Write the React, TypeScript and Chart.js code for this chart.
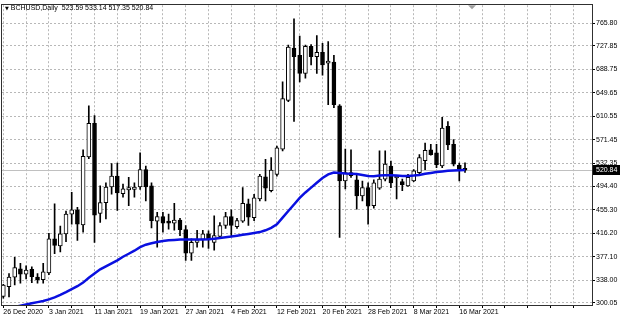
import React, { useEffect, useRef } from 'react';
import { Chart, registerables } from 'chart.js';

Chart.register(...registerables);

const symbolLabel = 'BCHUSD,Daily';

const xTickLabels = [
  '26 Dec 2020', '3 Jan 2021', '11 Jan 2021', '19 Jan 2021', '27 Jan 2021', '4 Feb 2021',
  '12 Feb 2021', '20 Feb 2021', '28 Feb 2021', '8 Mar 2021', '16 Mar 2021',
];

const yTickValues = [300.05, 338.0, 377.1, 416.2, 455.3, 494.4, 532.35, 571.45, 610.55, 649.65, 688.75, 727.85, 765.8];

const opens = [
  311, 327, 343, 357, 348, 356, 343, 339, 350, 407, 395, 415, 448, 455, 430, 543, 599, 449, 467, 493,
  511, 482, 488, 489, 493, 522, 495, 436, 444, 435, 433, 438, 422, 383, 401, 406, 415, 401, 411, 429,
  444, 427, 436, 465, 442, 473, 510, 487, 514, 556, 637, 724, 712, 682, 727, 710, 717, 699, 701, 628,
  503, 517, 505, 478, 492, 462, 491, 506, 528, 508, 502, 495, 503, 517, 537, 555, 550, 528, 594, 564,
  529, 523.59,
];

const highs = [
  331, 349, 376, 366, 362, 360, 349, 366, 416, 465, 428, 453, 484, 459, 555, 628, 612, 495, 500, 532,
  533, 498, 509, 500, 550, 528, 500, 451, 451, 448, 466, 441, 429, 407, 421, 421, 420, 445, 434, 451,
  455, 441, 492, 473, 481, 514, 539, 542, 561, 668, 729, 773, 744, 729, 730, 745, 732, 735, 712, 630,
  556, 555, 515, 503, 500, 505, 553, 553, 536, 511, 506, 514, 522, 547, 566, 564, 564, 609, 602, 572,
  533, 533.14,
];

const lows = [
  308, 310, 330, 333, 340, 334, 333, 333, 347, 382, 385, 402, 431, 404, 418, 540, 401, 434, 440, 481,
  454, 476, 462, 476, 489, 470, 425, 393, 418, 423, 421, 412, 371, 371, 393, 393, 391, 388, 409, 424,
  412, 424, 434, 429, 437, 470, 470, 485, 511, 553, 635, 602, 668, 674, 696, 682, 679, 630, 625, 409,
  490, 509, 456, 470, 431, 458, 489, 503, 492, 473, 487, 494, 502, 515, 522, 546, 525, 525, 555, 528,
  503, 517.35,
];

const closes = [
  330, 343, 359, 348, 355, 344, 339, 352, 407, 396, 415, 448, 455, 431, 544, 599, 446, 467, 493, 511,
  483, 490, 492, 493, 522, 493, 437, 444, 433, 433, 438, 422, 383, 401, 405, 415, 405, 412, 429, 444,
  429, 437, 466, 443, 475, 511, 491, 521, 558, 640, 726, 710, 682, 727, 710, 717, 696, 702, 630, 503,
  517, 512, 478, 492, 461, 500, 506, 531, 500, 510, 497, 509, 520, 542, 554, 547, 530, 591, 563, 531,
  523, 520.84,
];

const maValues = [
  290, 292, 293.5, 295.5, 297.5, 299.5, 301.5, 303.5, 306, 309.5, 313.5, 318, 323, 328, 334, 342, 349, 356, 361, 366,
  371, 377, 382, 387, 393, 397, 399.5, 401.5, 403, 404.5, 405, 405.5, 405.5, 405.5, 405.5, 405.5, 406, 407, 408, 409.5,
  410.5, 412, 413.5, 415, 416.5, 418, 421, 425, 431, 442, 453, 464, 475, 484, 492, 500, 508, 514, 517, 516.5,
  515.5, 515, 514.5, 513, 511.5, 511, 512, 512.5, 512.5, 512, 511.5, 511.5, 512, 513, 515, 516.5, 518, 519, 520, 520.5,
  521, 521.5,
];

const FONT = '"Liberation Sans", Arial, sans-serif';
const GRID = '#b8b8b8';

export default function App() {
  const ref = useRef<HTMLCanvasElement | null>(null);

  useEffect(() => {
    if (!ref.current) return;
    const last = closes.length - 1;

    const overlay = {
      id: 'mtOverlay',
      beforeDatasetsDraw(chart: any) {
        const { ctx, chartArea, scales } = chart;
        const y = Math.round(scales.y.getPixelForValue(closes[last])) + 0.5;
        ctx.save();
        ctx.strokeStyle = '#c0c0c0';
        ctx.lineWidth = 1;
        ctx.beginPath();
        ctx.moveTo(chartArea.left, y);
        ctx.lineTo(chartArea.right, y);
        ctx.stroke();
        ctx.restore();
      },
      afterDraw(chart: any) {
        const { ctx, chartArea, scales, width } = chart;
        ctx.save();
        ctx.strokeStyle = '#303030';
        ctx.lineWidth = 1;
        ctx.strokeRect(
          Math.round(chartArea.left) - 0.5,
          Math.round(chartArea.top) - 0.5,
          Math.round(chartArea.right - chartArea.left) + 1,
          Math.round(chartArea.bottom - chartArea.top) + 1,
        );
        // chart-shift marker
        ctx.fillStyle = '#a0a0a0';
        ctx.beginPath();
        ctx.moveTo(468, chartArea.top);
        ctx.lineTo(476, chartArea.top);
        ctx.lineTo(472, chartArea.top + 4);
        ctx.closePath();
        ctx.fill();
        const y = Math.round(scales.y.getPixelForValue(closes[last]));
        ctx.fillStyle = '#000';
        ctx.fillRect(chartArea.right + 1, y - 5, width - chartArea.right - 1, 10);
        ctx.fillStyle = '#fff';
        ctx.font = `7px ${FONT}`;
        ctx.textBaseline = 'middle';
        ctx.textAlign = 'left';
        ctx.fillText(closes[last].toFixed(2), chartArea.right + 4, y + 0.5);
        ctx.restore();
      },
    };

    const chart = new Chart(ref.current, {
      type: 'bar',
      data: {
        datasets: [
          {
            type: 'line',
            label: 'MA',
            data: maValues.map((v, i) => ({ x: i, y: v })),
            borderColor: '#0a10e0',
            borderWidth: 2.5,
            pointRadius: 0,
            tension: 0,
            order: 0,
          } as any,
          {
            label: 'Body',
            data: opens.map((o, i) => ({ x: i, y: [o, closes[i]] })),
            backgroundColor: (c: any) => (closes[c.dataIndex] >= opens[c.dataIndex] ? '#ffffff' : '#000000'),
            borderColor: '#000000',
            borderWidth: 1,
            borderSkipped: false,
            barThickness: 4,
            minBarLength: 2,
            grouped: false,
            order: 1,
          } as any,
          {
            label: 'Wick',
            data: lows.map((l, i) => ({ x: i, y: [l, highs[i]] })),
            backgroundColor: '#000000',
            borderWidth: 0,
            barThickness: 1,
            grouped: false,
            order: 2,
          } as any,
        ],
      },
      options: {
        animation: false,
        responsive: false,
        maintainAspectRatio: false,
        events: [],
        layout: { padding: { left: 2, top: 3, right: 0, bottom: 0 } },
        plugins: { legend: { display: false }, tooltip: { enabled: false }, title: { display: false } },
        scales: {
          x: {
            type: 'linear',
            offset: false,
            min: -0.23,
            max: 103.28,
            afterBuildTicks: (scale: any) => {
              const t = [];
              for (let v = 0; v <= 100; v += 4) t.push({ value: v });
              scale.ticks = t;
            },
            afterFit: (scale: any) => {
              scale.height = 14;
            },
            grid: {
              offset: false,
              color: GRID,
              lineWidth: 1,
              drawTicks: true,
              tickLength: 3,
              tickColor: '#000',
              tickBorderDash: [],
            },
            border: { display: false, dash: [2, 2] },
            ticks: {
              autoSkip: false,
              maxRotation: 0,
              minRotation: 0,
              align: 'start',
              padding: 0,
              color: '#000',
              font: { family: FONT, size: 7 },
              callback: (v: any) => {
                const n = Number(v);
                return n % 8 === 0 && n / 8 < xTickLabels.length ? xTickLabels[n / 8] : '';
              },
            },
          },
          y: {
            type: 'linear',
            position: 'right',
            min: 296.7,
            max: 795.5,
            beginAtZero: false,
            afterBuildTicks: (scale: any) => {
              scale.ticks = yTickValues.map((v) => ({ value: v }));
            },
            afterFit: (scale: any) => {
              scale.width = 28;
            },
            grid: {
              color: GRID,
              lineWidth: 1,
              drawTicks: true,
              tickLength: 3,
              tickColor: '#000',
              tickBorderDash: [],
            },
            border: { display: false, dash: [2, 2] },
            ticks: {
              crossAlign: 'near',
              padding: 1,
              color: '#000',
              font: { family: FONT, size: 7 },
              callback: (v: any) => Number(v).toFixed(2),
            },
          },
        },
      } as any,
      plugins: [overlay],
    });

    return () => chart.destroy();
  }, []);

  const last = closes.length - 1;
  const header = `${symbolLabel}  ${opens[last].toFixed(2)} ${highs[last].toFixed(2)} ${lows[last].toFixed(2)} ${closes[last].toFixed(2)}`;

  return (
    <div style={{ position: 'fixed', left: 0, top: 0, width: 620, height: 319, background: '#fff', overflow: 'hidden' }}>
      <canvas ref={ref} width={620} height={319} style={{ display: 'block', width: 620, height: 319 }} />
      <div
        style={{
          position: 'absolute',
          left: 5,
          top: 3,
          fontFamily: FONT,
          fontSize: 7,
          lineHeight: '10px',
          color: '#000',
          whiteSpace: 'pre',
        }}
      >
        <span style={{ fontFamily: '"DejaVu Sans", sans-serif', fontSize: 5 }}>▼</span> {header}
      </div>
    </div>
  );
}
